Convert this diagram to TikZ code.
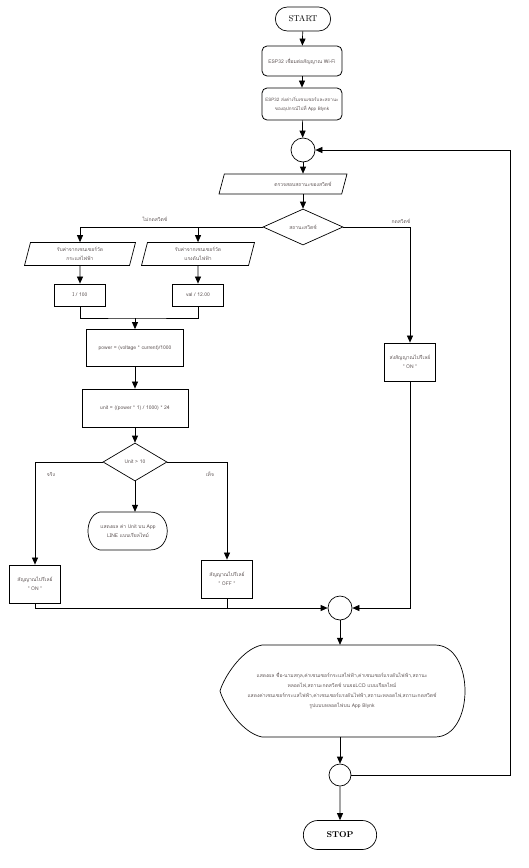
\documentclass[tikz,border=0pt]{standalone}
\usepackage{fontspec}
\newfontfamily\thaifont[Script=Thai]{Loma}
\usetikzlibrary{shapes.geometric,shapes.misc,arrows.meta}
\definecolor{txt}{RGB}{95,85,85}
\begin{document}
\begin{tikzpicture}[x=1pt,y=-1pt,
 every node/.style={font=\thaifont\fontsize{5}{9}\selectfont, text=txt, align=center},
 box/.style={draw, line width=0.8pt, rectangle, inner sep=1pt},
 rbox/.style={box, rounded corners=5pt},
 term/.style={draw, line width=0.7pt, rounded rectangle, text=black},
 io/.style={draw, line width=0.7pt, trapezium, trapezium left angle=66, trapezium right angle=114, trapezium stretches body, inner sep=0pt},
 dec/.style={draw, line width=0.7pt, diamond, inner sep=0pt},
 conn/.style={draw, line width=0.7pt, circle, minimum size=24pt, inner sep=0pt},
 arr/.style={line width=0.7pt, -{Triangle[length=7pt,width=6pt]}},
 ln/.style={line width=0.7pt},
 lbl/.style={font=\thaifont\fontsize{5}{6}\selectfont, inner sep=0pt}
]
\useasboundingbox (0,0) rectangle (529,868);
\fill[white] (0,0) rectangle (529,868);

% nodes
\node[term, minimum width=62pt, minimum height=24pt, font=\fontsize{8.5}{10}\selectfont] (start) at (303,19) {START};
\node[rbox, minimum width=80pt, minimum height=30pt] (b1) at (302,61) {ESP32 เชื่อมต่อสัญญาณ Wi-Fi};
\node[rbox, minimum width=80pt, minimum height=32pt, font=\thaifont\fontsize{4.6}{9}\selectfont] (b2) at (302,104) {ESP32 ส่งค่าเริ่มเซนเซอร์และสถานะ\\ของอุปกรณ์ไปที่ App Blynk};
\node[conn] (c1) at (303,150) {};
\node[io, minimum width=128pt, minimum height=20pt, inner ysep=6pt, trapezium left angle=72, trapezium right angle=108] (p0) at (283,184) {\hspace*{40pt}ตรวจสอบสถานะของสวิตช์};
\node[dec, minimum width=80pt, minimum height=36pt] (d1) at (303,227) {สถานะสวิตช์};
\node[io, minimum width=111pt, minimum height=23pt] (p1) at (80,254) {รับค่าจากเซนเซอร์วัด\\กระแสไฟฟ้า};
\node[io, minimum width=113pt, minimum height=23pt] (p2) at (198,254) {รับค่าจากเซนเซอร์วัด\\แรงดันไฟฟ้า};
\node[box, minimum width=51pt, minimum height=22pt] (i1) at (80,295) {I / 100};
\node[box, minimum width=51pt, minimum height=22pt] (v1) at (198,295) {val / 12.00};
\coordinate (m1) at (135,318);
\node[box, minimum width=97pt, minimum height=37pt] (pw) at (135,348) {power = (voltage * current)/1000};
\node[box, minimum width=106pt, minimum height=38pt] (un) at (135,408) {unit = ((power * 1) / 1000) * 24};
\node[dec, minimum width=64pt, minimum height=38pt] (d2) at (135,462) {Unit > 10};
\node[minimum width=80pt, minimum height=38pt, inner sep=0pt] (disp1) at (128,531) {แสดงผล ค่า Unit บน App\\LINE แบบเรียลไทม์};
\draw[ln] (100,512) -- (150,512) .. controls (173,512) and (173,550) .. (150,550) -- (100,550)
  .. controls (91,548) and (88,538) .. (88,531) .. controls (88,524) and (91,514) .. (100,512) -- cycle;
\node[box, minimum width=51pt, minimum height=38pt] (on2) at (35,584) {สัญญาณไปรีเลย์\\" ON "};
\node[box, minimum width=51pt, minimum height=38pt] (off) at (227,579) {สัญญาณไปรีเลย์\\" OFF "};
\node[box, minimum width=51pt, minimum height=38pt] (on1) at (410,362) {ส่งสัญญาณไปรีเลย์\\" ON "};
\node[conn] (c2) at (340,608) {};
\node[minimum width=245pt, minimum height=92pt, inner sep=0pt, font=\thaifont\fontsize{5}{10}\selectfont] (disp2) at (342,691) {แสดงผล ชื่อ-นามสกุล,ค่าเซนเซอร์กระแสไฟฟ้า,ค่าเซนเซอร์แรงดันไฟฟ้า,สถานะ\\หลอดไฟ,สถานะกดสวิตช์ บนจอLCD แบบเรียลไทม์\\แสดงค่าเซนเซอร์กระแสไฟฟ้า,ค่าเซนเซอร์แรงดันไฟฟ้า,สถานะหลอดไฟ,สถานะกดสวิตช์\\รูปแบบหลอดไฟบน App Blynk};
\draw[ln] (262,645) -- (435,645) .. controls (475,645) and (475,737) .. (435,737) -- (262,737)
  .. controls (242,733) and (224,705) .. (220,691) .. controls (224,677) and (242,649) .. (262,645) -- cycle;
\node[conn, minimum size=22pt] (c3) at (340,775) {};
\node[term, minimum width=80pt, minimum height=29pt, font=\bfseries\fontsize{8.5}{10}\selectfont] (stop) at (340,835) {STOP};
\coordinate (r2) at (510,150);

% labels
\node[lbl] (l1) at (155,219) {ไม่กดสวิตช์};
\node[lbl] (l2) at (401,221) {กดสวิตช์};
\node[lbl] (l3) at (51,474) {จริง};
\node[lbl] (l4) at (210,474) {เท็จ};

% connectors
\draw[arr] (start) -- (b1);
\draw[arr] (b1) -- (b2);
\draw[arr] (b2) -- (c1);
\draw[arr] (c1) -- (c1 |- p0.north);
\draw[arr] (c1 |- p0.south) -- (d1.north);
\draw[arr] (d1.west) -| (p1.north);
\draw[arr] (p2.north |- d1.west) -- (p2.north);
\draw[arr] (d1.east) -| (on1.north);
\draw[arr] (p1) -- (i1);
\draw[arr] (p2) -- (v1);
\draw[ln] (i1.south) |- (m1) -| (v1.south);
\draw[arr] (m1) -- (pw.north);
\draw[arr] (pw) -- (un);
\draw[arr] (un) -- (d2);
\draw[arr] (d2.west) -| (on2.north);
\draw[arr] (d2.east) -| (off.north);
\draw[arr] (d2.south) -- (d2.south |- disp1.north);
\draw[arr] (on2.south) |- (c2.west);
\draw[ln] (off.south) -- (off.south |- c2.west);
\draw[arr] (on1.south) |- (c2.east);
\draw[arr] (c2) -- (c2 |- disp2.north);
\draw[arr] (c2 |- disp2.south) -- (c3);
\draw[arr] (c3) -- (stop);
\draw[arr] (c3.east) -| (r2) -- (c1.east);
\end{tikzpicture}
\end{document}
